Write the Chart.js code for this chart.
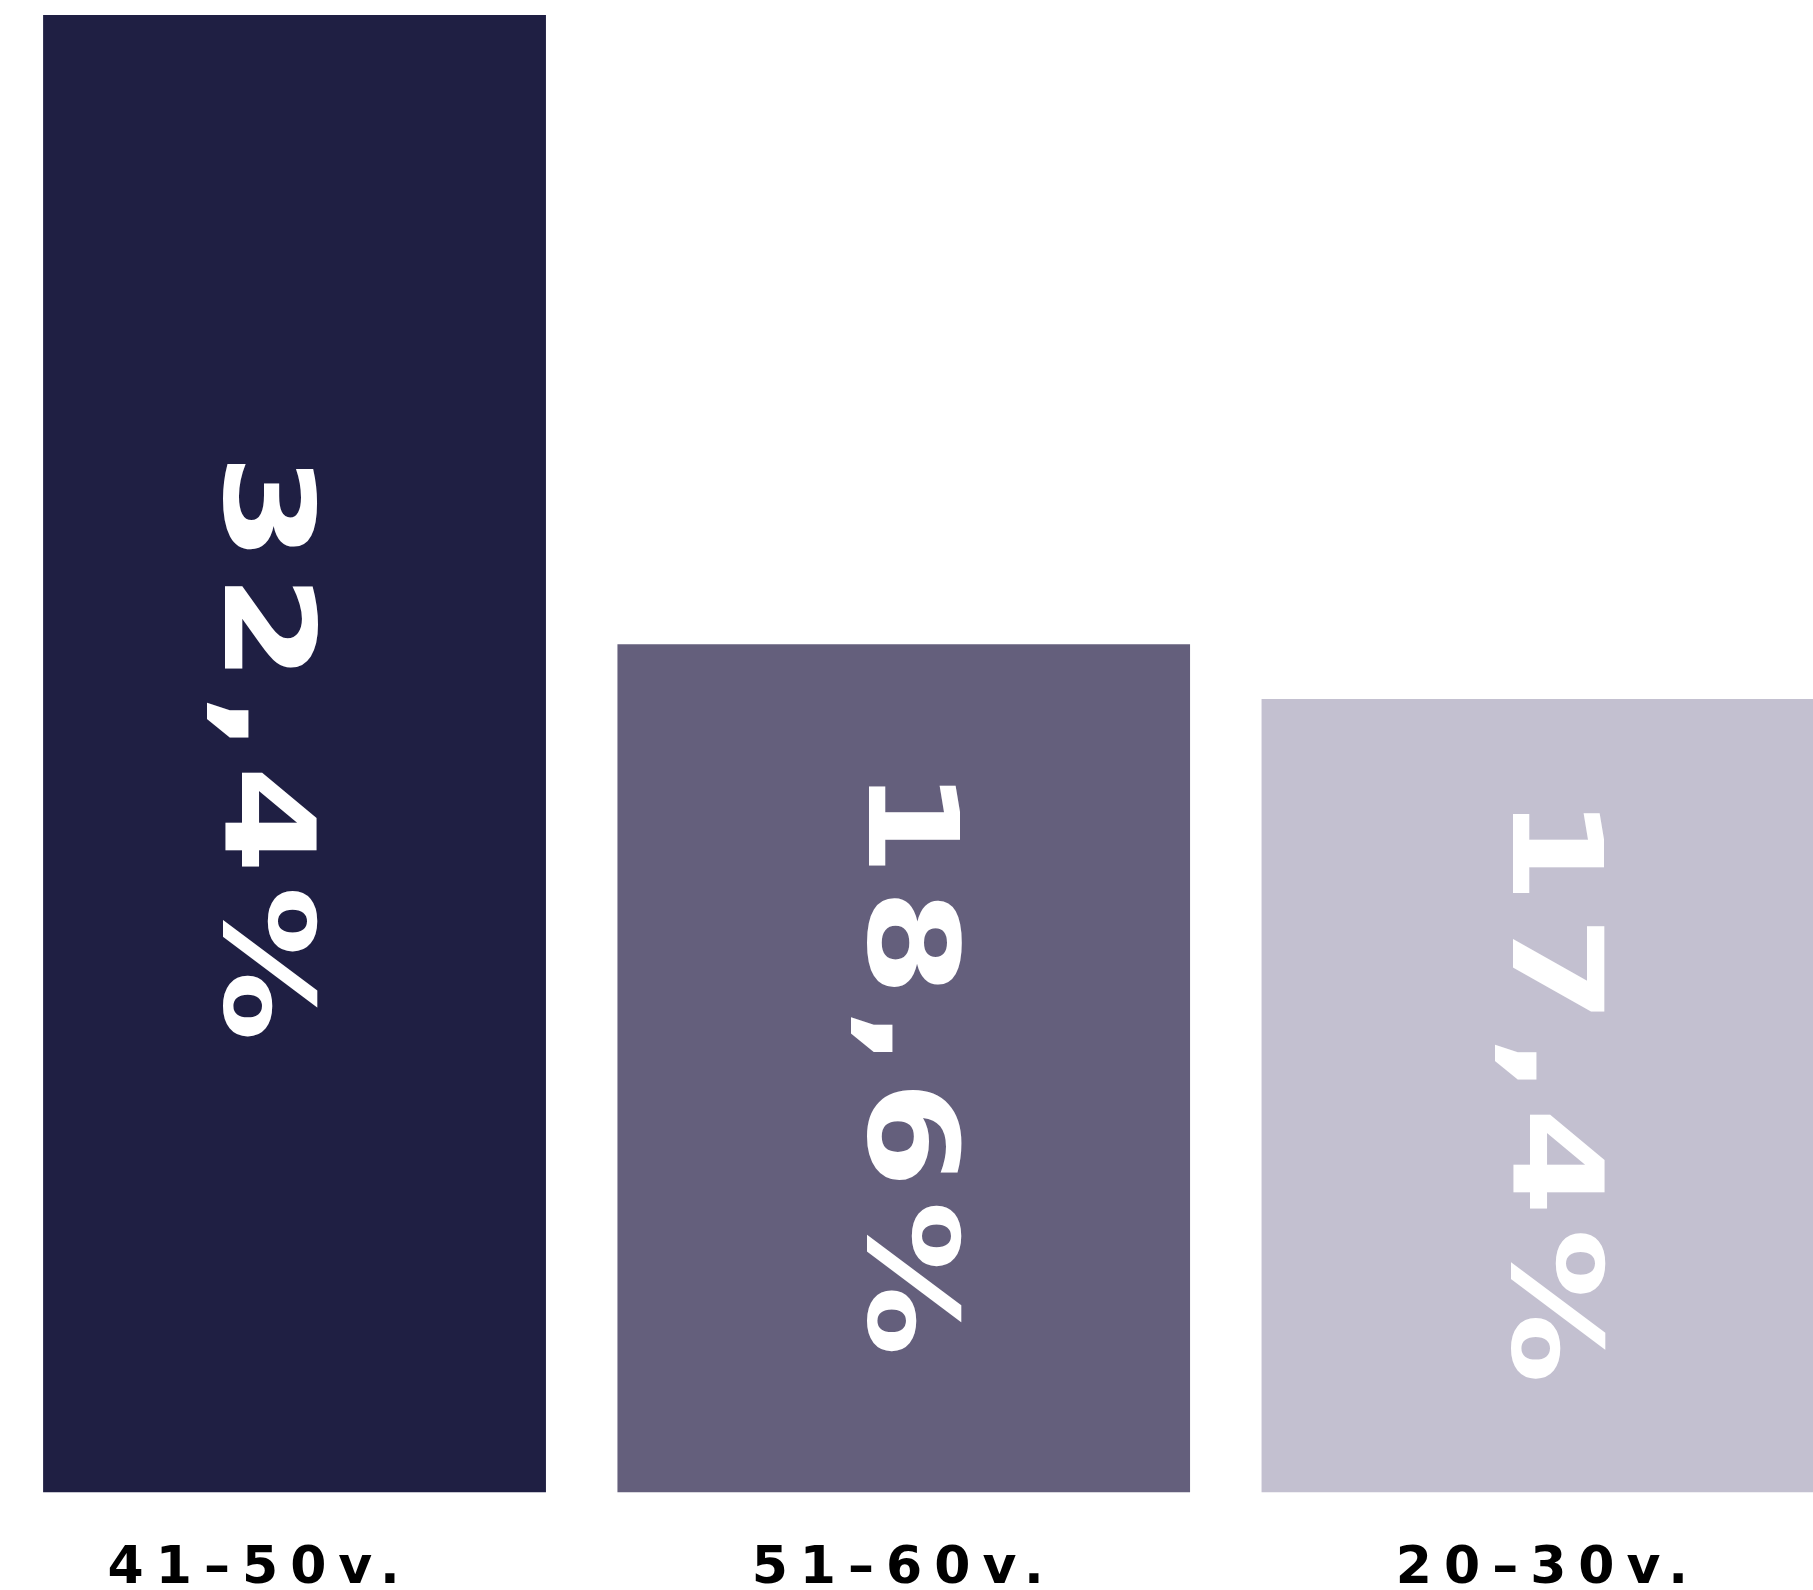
<!DOCTYPE html>
<html>
<head>
<meta charset="utf-8">
<script src="https://cdn.jsdelivr.net/npm/chart.js@4.4.1/dist/chart.umd.min.js"></script>
<style>
  html, body { margin: 0; padding: 0; background: #fff; overflow: hidden; }
  #wrap { position: relative; width: 1813px; height: 1590px; overflow: hidden; }
  #ageChart { position: absolute; left: -100px; top: 0; }
</style>
</head>
<body>
<div id="wrap"><canvas id="ageChart" width="2000" height="1647"></canvas></div>
<script>
"use strict";

// Data
const ageGroups = ["41–50v.", "51–60v.", "20–30v."];
const shares = [32.4, 18.6, 17.4];
const barColors = ["#1f1f43", "#645f7c", "#c3c0d0"];

// wide tick letters + rotated value labels inside the bars
const valueLabels = {
    id: "valueLabels",
    beforeDraw(chart) {
        chart.ctx.letterSpacing = "12px";
    },
    beforeDatasetsDraw(chart) {
        chart.ctx.letterSpacing = "0px";
    },
    afterDatasetsDraw(chart) {
        const ctx = chart.ctx;
        const meta = chart.getDatasetMeta(0);
        meta.data.forEach((bar, i) => {
            const text = String(shares[i]).replace(".", ",") + "%";
            const midY = (bar.y + bar.base) / 2;
            ctx.save();
            ctx.translate(bar.x + 10 - 45, midY);
            ctx.rotate(Math.PI / 2);
            ctx.scale(1.25, 1);
            ctx.font = "bold 124px 'DejaVu Sans'";
            ctx.letterSpacing = "10px";
            ctx.fillStyle = "#ffffff";
            ctx.textAlign = "center";
            ctx.textBaseline = "alphabetic";
            ctx.fillText(text, 0, 0);
            ctx.restore();
        });
    }
};

const ctx = document.getElementById("ageChart").getContext("2d");

let myChart = new Chart(ctx, {
    type: "bar",
    data: {
        labels: ageGroups,
        datasets: [{
            data: shares,
            backgroundColor: barColors,
            borderWidth: 0,
            categoryPercentage: 1,
            barPercentage: 0.889,
            clip: { left: -105.5, top: 0, right: 0, bottom: 0 }
        }]
    },
    options: {
        responsive: false,
        devicePixelRatio: 1,
        animation: false,
        layout: {
            padding: { left: 37.6, right: 30.1, top: 15, bottom: 0 }
        },
        plugins: {
            legend: { display: false },
            tooltip: { enabled: false }
        },
        scales: {
            x: {
                grid: { display: false, drawTicks: false },
                border: { display: false },
                ticks: {
                    color: "#000000",
                    padding: 46,
                    font: { family: "'DejaVu Sans'", size: 52, weight: "bold", lineHeight: 1.2 }
                }
            },
            y: {
                display: false,
                min: 0,
                max: Math.max(...shares)
            }
        }
    },
    plugins: [valueLabels]
});
</script>
</body>
</html>
